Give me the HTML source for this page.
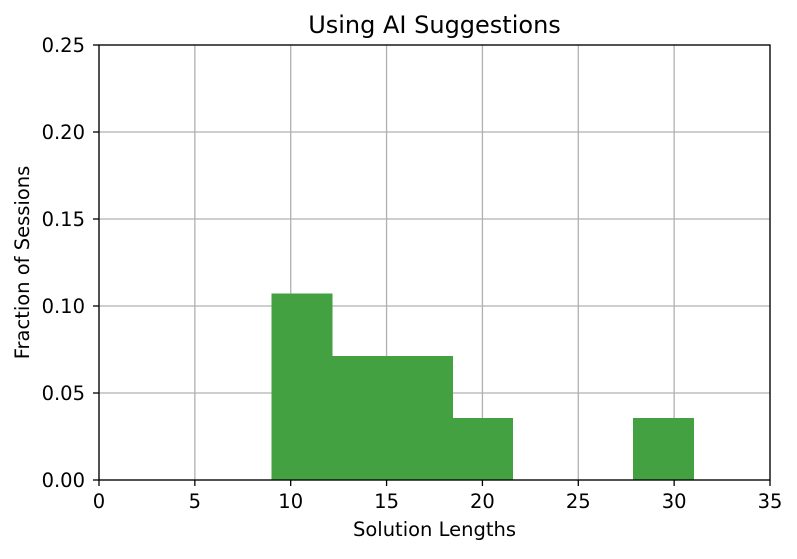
<!DOCTYPE html>
<html><head><meta charset="utf-8"><style>
body{margin:0;background:#fff;}
svg text{font-family:"DejaVu Sans","Liberation Sans",sans-serif;fill:#000;}
</style></head><body>
<svg id="chart" width="797" height="554" xmlns="http://www.w3.org/2000/svg">
<rect width="797" height="554" fill="#fff"/>
<g id="grid"></g><g id="bars" shape-rendering="crispEdges"></g><g id="axes"></g>
</svg>
<script>
const binEdges=[9,12.142857,15.285714,18.428571,21.571429,24.714286,27.857143,31];
const binValues=[0.1071,0.0714,0.0714,0.0357,0,0,0.0357];
const xTicks=[0,5,10,15,20,25,30,35];
const yTicks=[0,0.05,0.10,0.15,0.20,0.25];
const yTickLabels=["0.00","0.05","0.10","0.15","0.20","0.25"];

const L=99,R=770,T=45,B=480;
const sx=v=>L+(v-0)/35*(R-L);
const sy=v=>B-(v/0.25)*(B-T);
const NS="http://www.w3.org/2000/svg";
function mk(tag,attrs,parent){const e=document.createElementNS(NS,tag);for(const k in attrs)e.setAttribute(k,attrs[k]);parent.appendChild(e);return e;}
const grid=document.getElementById('grid'),bars=document.getElementById('bars'),axes=document.getElementById('axes');
const FS=19.5;
xTicks.forEach(t=>{
  const g=mk('line',{x1:sx(t),x2:sx(t),y1:T,y2:B,stroke:'#b0b0b0','stroke-width':1.3},grid);
  
  
  mk('line',{x1:sx(t),x2:sx(t),y1:B,y2:B+6,stroke:'#000','stroke-width':1.3},axes);
  const tx=mk('text',{x:sx(t),y:B+28,'text-anchor':'middle','font-size':FS},axes);
  tx.textContent=t;
  
  
});
yTicks.forEach((t,i)=>{
  const g=mk('line',{x1:L,x2:R,y1:sy(t),y2:sy(t),stroke:'#b0b0b0','stroke-width':1.3},grid);
  
  
  mk('line',{x1:L-6,x2:L,y1:sy(t),y2:sy(t),stroke:'#000','stroke-width':1.3},axes);
  const tx=mk('text',{x:L-14,y:sy(t)+7,'text-anchor':'end','font-size':FS},axes);
  tx.textContent=yTickLabels[i];
  
  
});
binValues.forEach((v,i)=>{
  if(v<=0)return;
  const x0=sx(binEdges[i]),x1=sx(binEdges[i+1]);
  const r=mk('rect',{x:x0,y:sy(v),width:x1-x0+0.5,height:B-sy(v),fill:'#43a142'},bars);
  
  
});
const frame=mk('rect',{x:L,y:T,width:R-L,height:B-T,fill:'none',stroke:'#000','stroke-width':1.3},axes);


const title=mk('text',{x:(L+R)/2,y:33,'text-anchor':'middle','font-size':24},axes);
title.textContent='Using AI Suggestions';


const xl=mk('text',{x:(L+R)/2,y:536,'text-anchor':'middle','font-size':FS},axes);
xl.textContent='Solution Lengths';


const yl=mk('text',{x:0,y:0,'text-anchor':'middle','font-size':FS,transform:`translate(29,${(T+B)/2}) rotate(-90)`},axes);
yl.textContent='Fraction of Sessions';


</script>
</body></html>
